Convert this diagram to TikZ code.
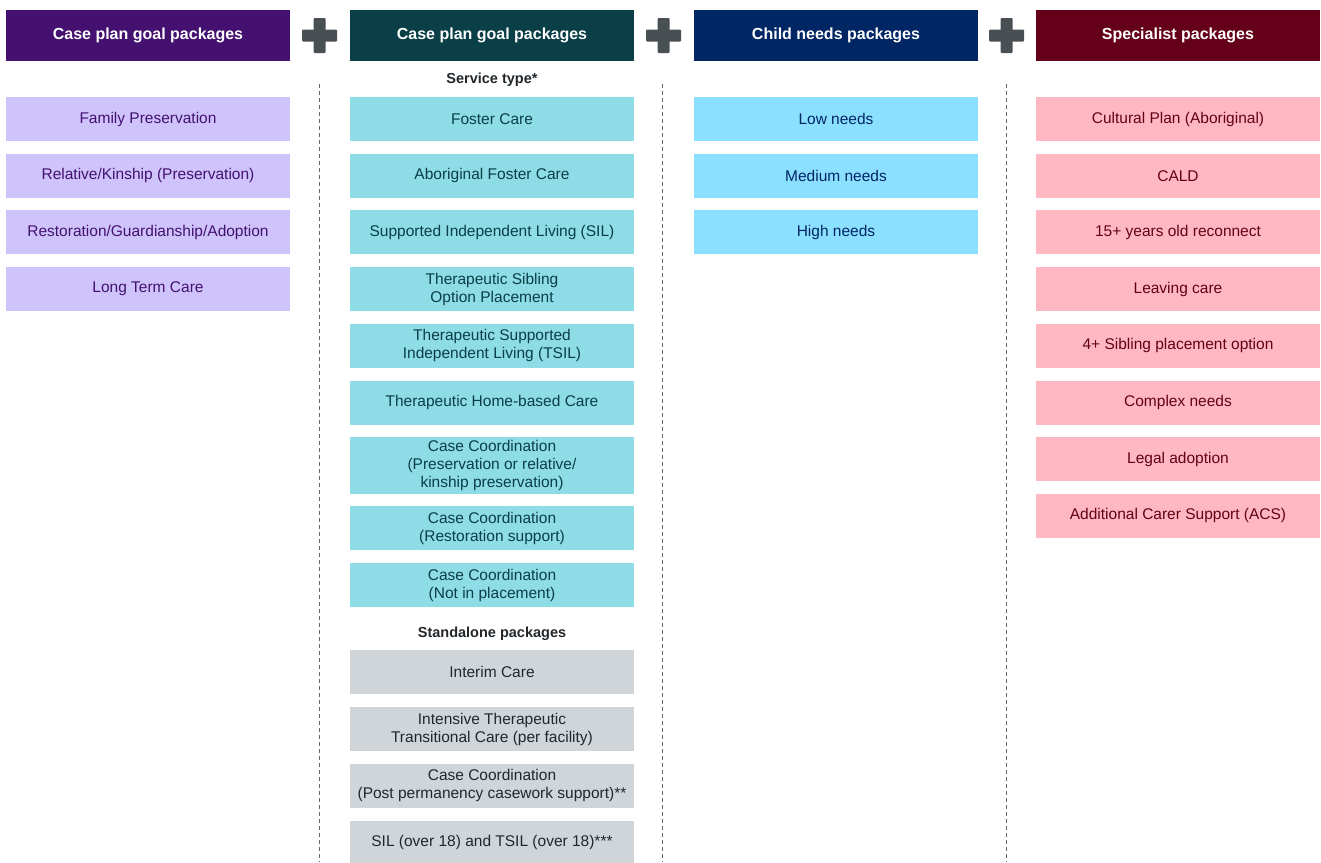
\documentclass[tikz,border=0pt]{standalone}
\usepackage{fontspec}
\setmainfont{Liberation Sans}
\usetikzlibrary{positioning}

\definecolor{goalpurple}{HTML}{441170}
\definecolor{goalteal}{HTML}{0A3F48}
\definecolor{needsnavy}{HTML}{002664}
\definecolor{specmaroon}{HTML}{64001A}
\definecolor{lavender}{HTML}{CEC3FA}
\definecolor{aqua}{HTML}{8EDCE6}
\definecolor{skyblue}{HTML}{8CE0FF}
\definecolor{pink}{HTML}{FFB8C1}
\definecolor{greybox}{HTML}{D0D5DA}
\definecolor{greytext}{HTML}{22272B}
\definecolor{plusgrey}{HTML}{495054}

\begin{document}
\begin{tikzpicture}[x=1pt,y=-1pt,
        node distance=12.7pt,
        head/.style={rectangle,minimum width=284pt,minimum height=51pt,inner sep=0pt,outer sep=0pt,
            text=white,font=\fontsize{16}{19}\selectfont\bfseries},
        pbox/.style={rectangle,minimum width=284pt,minimum height=44pt,inner sep=0pt,
            outer sep=0pt,align=center,font=\fontsize{15.5}{18}\selectfont},
        goal/.style={pbox,fill=lavender,text=goalpurple},
        service/.style={pbox,fill=aqua,text=goalteal},
        needs/.style={pbox,fill=skyblue,text=needsnavy},
        special/.style={pbox,fill=pink,text=specmaroon},
        standalone/.style={pbox,fill=greybox,text=greytext},
        sub/.style={inner sep=0pt,text=greytext,font=\fontsize{14.5}{17}\selectfont\bfseries},
        sep/.style={draw=gray!80!black,line width=1pt,dash pattern=on 4pt off 3pt},
        plussign/.pic={
            \fill[plusgrey,rounded corners=1pt] (-17.5,-6) rectangle (17.5,6);
            \fill[plusgrey,rounded corners=1pt] (-6,-17.5) rectangle (6,17.5);
        }]
        \useasboundingbox (0,0) rectangle (1321,862);

        % Column headers
        \node[head,fill=goalpurple] (h1) at (148,35.5) {Case plan goal packages};
        \node[head,fill=goalteal] (h2) at (492,35.5) {Case plan goal packages};
        \node[head,fill=needsnavy] (h3) at (836,35.5) {Child needs packages};
        \node[head,fill=specmaroon] (h4) at (1178,35.5) {Specialist packages};

        \pic at (319.5,35.5) {plussign};
        \pic at (663.5,35.5) {plussign};
        \pic at (1006.5,35.5) {plussign};

        % Dashed separators
        \draw[sep] (319,84) -- (319,862);
        \draw[sep] (662,84) -- (662,862);
        \draw[sep] (1006,84) -- (1006,862);

        % First column
        \node[goal,below=36pt of h1] (a1) {Family Preservation};
        \node[goal,below=of a1] (a2) {Relative/Kinship (Preservation)};
        \node[goal,below=of a2] (a3) {Restoration/Guardianship/Adoption};
        \node[goal,below=of a3] (a4) {Long Term Care};

        % Second column: service types, then standalone packages
        \node[sub] (st) at ([yshift=-19pt]h2.south) {Service type*};
        \node[service,below=36pt of h2] (b1) {Foster Care};
        \node[service,below=of b1] (b2) {Aboriginal Foster Care};
        \node[service,below=of b2] (b3) {Supported Independent Living (SIL)};
        \node[service,below=of b3] (b4) {Therapeutic Sibling\\Option Placement};
        \node[service,below=of b4] (b5) {Therapeutic Supported\\Independent Living (TSIL)};
        \node[service,below=of b5] (b6) {Therapeutic Home-based Care};
        \node[service,below=of b6,minimum height=56.5pt] (b7) {Case Coordination\\(Preservation or relative/\\kinship preservation)};
        \node[service,below=of b7] (b8) {Case Coordination\\(Restoration support)};
        \node[service,below=of b8] (b9) {Case Coordination\\(Not in placement)};
        \node[sub] (sa) at ([yshift=-27pt]b9.south) {Standalone packages};
        \node[standalone,below=43.3pt of b9] (g1) {Interim Care};
        \node[standalone,below=of g1] (g2) {Intensive Therapeutic\\Transitional Care (per facility)};
        \node[standalone,below=of g2] (g3) {Case Coordination\\(Post permanency casework support)**};
        \node[standalone,below=of g3] (g4) {SIL (over 18) and TSIL (over 18)***};

        % Third column
        \node[needs,below=36pt of h3] (c1) {Low needs};
        \node[needs,below=of c1] (c2) {Medium needs};
        \node[needs,below=of c2] (c3) {High needs};

        % Fourth column
        \node[special,below=36pt of h4] (d1) {Cultural Plan (Aboriginal)};
        \node[special,below=of d1] (d2) {CALD};
        \node[special,below=of d2] (d3) {15+ years old reconnect};
        \node[special,below=of d3] (d4) {Leaving care};
        \node[special,below=of d4] (d5) {4+ Sibling placement option};
        \node[special,below=of d5] (d6) {Complex needs};
        \node[special,below=of d6] (d7) {Legal adoption};
        \node[special,below=of d7] (d8) {Additional Carer Support (ACS)};
    \end{tikzpicture}
\end{document}
